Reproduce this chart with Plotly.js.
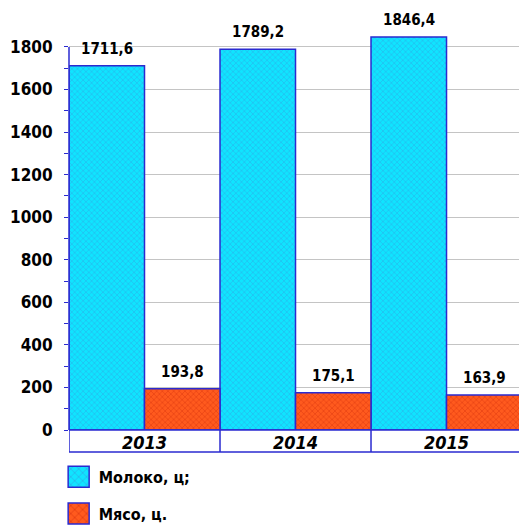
<!DOCTYPE html>
<html><head><meta charset="utf-8">
<script src="https://cdn.plot.ly/plotly-3.0.1.min.js"></script>
<style>html,body{margin:0;padding:0;background:#fff;}
#chart text{font-stretch:condensed !important;}</style>
</head><body>
<div id="chart" style="width:519px;height:525px;"></div>
<script>
const years = ['2013', '2014', '2015'];
const milk = [1711.6, 1789.2, 1846.4];
const meat = [193.8, 175.1, 163.9];
const seriesNames = ['Молоко, ц;', 'Мясо, ц.'];
const yTicks = [0, 200, 400, 600, 800, 1000, 1200, 1400, 1600, 1800];

const FONT = '"DejaVu Sans Condensed", "Liberation Sans Narrow", "DejaVu Sans", sans-serif';
const BLUE = '#2a2ad0';

const traces = [
  {type: 'bar', name: seriesNames[0], x: years, y: milk, legendgroup: 'a',
   marker: {color: '#10e0ff', line: {color: BLUE, width: 1.5},
            pattern: {shape: 'x', size: 4, solidity: 0.25, fgcolor: '#2ab0e8', bgcolor: '#10e4ff', fillmode: 'replace'}},
   hoverinfo: 'none'},
  {type: 'bar', name: seriesNames[1], x: years, y: meat, legendgroup: 'b',
   marker: {color: '#ff5a1e', line: {color: BLUE, width: 1.5},
            pattern: {shape: 'x', size: 4, solidity: 0.25, fgcolor: '#e03a10', bgcolor: '#ff5a1e', fillmode: 'replace'}},
   hoverinfo: 'none'}
];

const fmt = v => v.toFixed(1).replace('.', ',');
const annotations = [];
[milk, meat].forEach((arr, s) => {
  arr.forEach((v, i) => {
    annotations.push({x: i + (s === 0 ? -0.25 : 0.25), y: v, xref: 'x', yref: 'y', text: fmt(v),
      showarrow: false, yanchor: 'bottom', yshift: 6,
      font: {family: FONT, size: 15, color: '#000', weight: 'bold'}});
  });
});

const PH = 398; // plot height in px
const boxH = 22 / PH;
const shapes = [
  {type: 'line', xref: 'paper', yref: 'y', x0: 0, x1: 0, y0: 0, y1: yTicks[yTicks.length - 1], line: {color: BLUE, width: 1.5}},
  {type: 'line', xref: 'paper', yref: 'paper', x0: 0, x1: 1, y0: 0, y1: 0, line: {color: BLUE, width: 1.5}},
  {type: 'line', xref: 'paper', yref: 'paper', x0: 0, x1: 1, y0: -boxH, y1: -boxH, line: {color: BLUE, width: 1.5}},
];
years.forEach((y, i) => {
  shapes.push({type: 'line', xref: 'x', yref: 'paper', x0: i - 0.5, x1: i - 0.5, y0: 0, y1: -boxH, line: {color: BLUE, width: 1.5}});
});

const layout = {
  width: 519, height: 525,
  margin: {l: 69, r: 0, t: 32, b: 95, autoexpand: false},
  paper_bgcolor: '#fff', plot_bgcolor: '#fff',
  separators: ', ',
  barmode: 'group', bargap: 0, bargroupgap: 0,
  showlegend: true,
  legend: {x: -0.023, y: -0.075, xanchor: 'left', yanchor: 'top', tracegroupgap: 13,
           font: {family: FONT, size: 16, color: '#000', weight: 'bold'}, itemwidth: 30},
  xaxis: {type: 'category', range: [-0.5, 2.48], showgrid: false, showline: false, zeroline: false, ticks: '',
          tickfont: {family: FONT, size: 18, color: '#000', weight: 'bold', style: 'italic'}, ticklabelstandoff: 0, fixedrange: true},
  yaxis: {range: [0, 1870], tickvals: yTicks, ticktext: yTicks.map(String), showgrid: true, gridcolor: '#c4c4c4', gridwidth: 1,
          zeroline: false, showline: false, ticks: 'outside', ticklen: 4, tickcolor: BLUE,
          minor: {dtick: 100, ticks: 'outside', ticklen: 4, tickcolor: BLUE, showgrid: false},
          tickfont: {family: FONT, size: 17, color: '#000', weight: 'bold'}, ticklabelstandoff: 8, fixedrange: true},
  annotations: annotations,
  shapes: shapes
};

Plotly.newPlot('chart', traces, layout, {displayModeBar: false, staticPlot: true}).then(() => {
  document.querySelectorAll('#chart .legend .legendpoints path').forEach(p => {
    const t = p.getAttribute('transform') || '';
    p.setAttribute('transform', t + ' scale(1.75)');
    p.setAttribute('vector-effect', 'non-scaling-stroke');
  });
});
</script>
</body></html>
